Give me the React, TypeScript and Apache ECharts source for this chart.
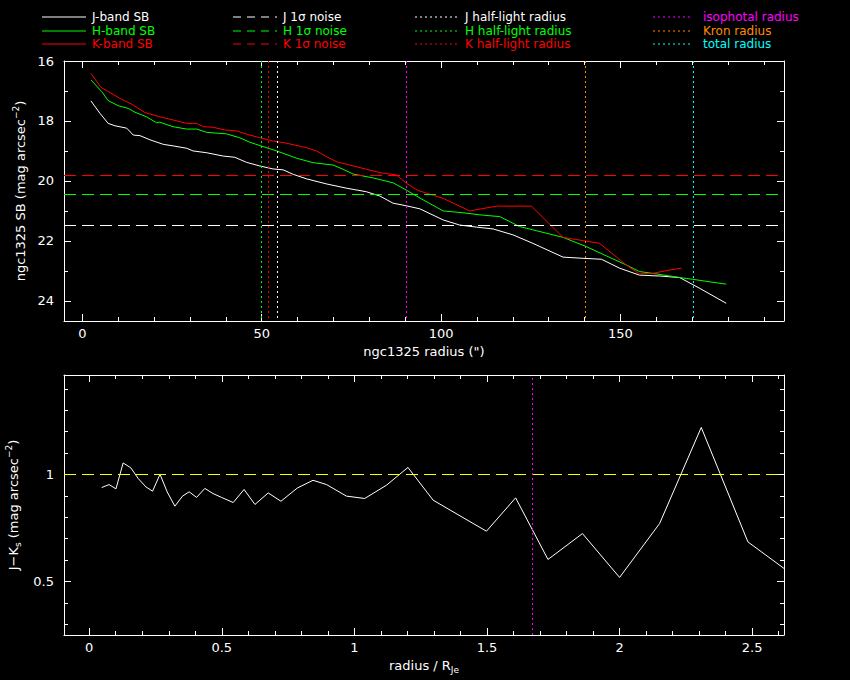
import React, { useEffect, useRef } from "react";
import * as echarts from "echarts";

// ---------- data ----------
// radius (arcsec), surface brightness (mag arcsec^-2)
const J_SB: [number, number][] = [
  [2.4, 17.33], [4.9, 17.74], [7.2, 18.08], [9.1, 18.16], [12.4, 18.24], [14.2, 18.47],
  [16.1, 18.49], [18.9, 18.63], [22.6, 18.78], [25.3, 18.83], [29.1, 18.91], [30.9, 19.0],
  [34.7, 19.06], [39.3, 19.17], [42.5, 19.21], [45.8, 19.38], [49.5, 19.5], [53.2, 19.6],
  [56.0, 19.63], [58.8, 19.78], [62.5, 19.93], [68.1, 20.1], [73.6, 20.24], [79.2, 20.36],
  [82.9, 20.5], [86.6, 20.74], [90.4, 20.83], [94.1, 20.93], [100.6, 21.3], [105.2, 21.47],
  [109.9, 21.54], [114.5, 21.6], [120.1, 21.8], [125.6, 22.08], [134.0, 22.54], [139.6, 22.58],
  [144.7, 22.61], [149.8, 22.91], [155.3, 23.14], [160.9, 23.17], [166.5, 23.22], [172.1, 23.58],
  [179.5, 24.08],
];
const H_SB: [number, number][] = [
  [2.4, 16.63], [5.4, 17.02], [7.2, 17.32], [10.0, 17.49], [12.8, 17.58], [14.7, 17.71],
  [17.9, 17.86], [20.7, 18.06], [21.6, 18.04], [25.3, 18.19], [29.1, 18.27], [31.9, 18.27],
  [34.7, 18.38], [40.2, 18.43], [43.9, 18.56], [46.7, 18.71], [49.5, 18.82], [54.2, 19.0],
  [59.7, 19.24], [64.3, 19.39], [69.9, 19.47], [72.7, 19.61], [75.5, 19.77], [81.1, 19.9],
  [86.6, 20.06], [90.4, 20.31], [95.0, 20.63], [100.6, 21.0], [106.1, 21.06], [110.8, 21.13],
  [116.4, 21.19], [121.9, 21.52], [125.6, 21.63], [134.0, 21.88], [140.5, 22.19], [146.1, 22.5],
  [151.6, 22.8], [155.3, 23.02], [160.0, 23.1], [166.5, 23.22], [170.2, 23.28], [175.8, 23.38],
  [179.5, 23.44],
];
const K_SB: [number, number][] = [
  [2.4, 16.41], [5.2, 16.88], [7.2, 17.02], [11.0, 17.28], [13.8, 17.44], [17.5, 17.72],
  [21.6, 17.86], [25.4, 17.97], [29.1, 18.08], [31.9, 18.08], [33.7, 18.19], [36.5, 18.21],
  [39.7, 18.3], [43.0, 18.33], [45.8, 18.44], [49.5, 18.56], [53.2, 18.67], [56.9, 18.74],
  [62.5, 18.89], [65.3, 19.0], [68.1, 19.19], [70.9, 19.36], [74.6, 19.47], [79.2, 19.61],
  [82.9, 19.72], [87.6, 19.8], [90.4, 20.08], [93.6, 20.32], [100.6, 20.58], [108.0, 21.0],
  [111.7, 20.92], [115.4, 20.84], [125.2, 20.84], [134.0, 21.88], [139.6, 21.99], [144.2, 22.08],
  [151.6, 22.8], [155.3, 23.1], [159.1, 23.08], [162.8, 22.99], [167.0, 22.91],
];
// radius / R_Je, J-Ks colour
const JK_COLOUR: [number, number][] = [
  [0.047, 0.939], [0.075, 0.953], [0.101, 0.933], [0.128, 1.054], [0.157, 1.031], [0.185, 0.981],
  [0.214, 0.942], [0.239, 0.922], [0.267, 1.001], [0.294, 0.919], [0.323, 0.852], [0.352, 0.899],
  [0.377, 0.919], [0.405, 0.893], [0.436, 0.935], [0.467, 0.911], [0.499, 0.893], [0.543, 0.869],
  [0.584, 0.93], [0.625, 0.86], [0.675, 0.914], [0.723, 0.875], [0.785, 0.937], [0.844, 0.973],
  [0.895, 0.953], [0.97, 0.899], [1.039, 0.888], [1.121, 0.95], [1.202, 1.033], [1.297, 0.88],
  [1.498, 0.735], [1.608, 0.891], [1.73, 0.603], [1.86, 0.724], [2.0, 0.519], [2.151, 0.771],
  [2.308, 1.22], [2.484, 0.685], [2.62, 0.561],
];

// 1-sigma noise levels (mag arcsec^-2)
const NOISE_J = 21.48;
const NOISE_H = 20.43;
const NOISE_K = 19.8;
// characteristic radii (arcsec)
const HALF_J = 54.3;
const HALF_H = 50.0;
const HALF_K = 51.8;
const ISO_RADIUS = 90.3;
const KRON_RADIUS = 140.1;
const TOTAL_RADIUS = 170.2;
// in units of R_Je
const ISO_RADIUS_NORM = 1.671;
const COLOUR_REF = 1;

// ticks
const TOP_X_LABELS = [0, 50, 100, 150];
const TOP_X_MINOR = [10, 20, 30, 40, 60, 70, 80, 90, 110, 120, 130, 140, 160, 170, 180, 190];
const TOP_Y_LABELS = [16, 18, 20, 22, 24];
const TOP_Y_MINOR = [17, 19, 21, 23];
const BOT_X_LABELS = [0, 0.5, 1, 1.5, 2, 2.5];
const BOT_X_MINOR = [
  0.1, 0.2, 0.3, 0.4, 0.6, 0.7, 0.8, 0.9, 1.1, 1.2, 1.3, 1.4, 1.6, 1.7, 1.8, 1.9,
  2.1, 2.2, 2.3, 2.4, 2.6,
];
const BOT_Y_LABELS = [0.5, 1];
const BOT_Y_MINOR = [0.3, 0.4, 0.6, 0.7, 0.8, 0.9, 1.1, 1.2, 1.3, 1.4];

// ---------- styling ----------
const FONT = "DejaVu Sans";
const WHITE = "#ffffff";
const GREEN = "#00ff00";
const RED = "#ff0000";
const MAGENTA = "#ff00ff";
const ORANGE = "#ff8c00";
const CYAN = "#00ffff";
const YELLOW = "#ffff00";
const DOT = [2, 3];
const DASH = [12, 6];

const baseText = { color: WHITE, fontFamily: FONT, fontSize: 13 };
const richText = {
  sup: { color: WHITE, fontFamily: FONT, fontSize: 9, padding: [0, 0, 9, 0] },
  sub: { color: WHITE, fontFamily: FONT, fontSize: 9, padding: [9, 0, 0, 0] },
  n: { color: WHITE, fontFamily: FONT, fontSize: 13 },
};

function axisSet(
  dim: "x" | "y",
  gridIndex: number,
  min: number,
  max: number,
  labels: number[],
  minor: number[],
  extra: any
) {
  const posA = dim === "x" ? "bottom" : "left";
  const posB = dim === "x" ? "top" : "right";
  const common = {
    type: "value",
    gridIndex,
    min,
    max,
    inverse: !!extra.inverse,
    splitLine: { show: false },
    axisPointer: { show: false },
  };
  const line = { show: true, onZero: false, lineStyle: { color: WHITE, width: 1 } };
  const noLine = { show: false, onZero: false };
  const tick = (vals: number[], len: number) => ({
    show: true,
    inside: true,
    length: len,
    customValues: vals,
    lineStyle: { color: WHITE, width: 1 },
  });
  return [
    {
      ...common,
      position: posA,
      axisLine: line,
      axisTick: tick(labels, 7),
      axisLabel: { ...baseText, show: true, customValues: labels, margin: extra.margin },
      name: extra.name,
      nameLocation: "middle",
      nameGap: extra.nameGap,
      nameTextStyle: { ...baseText, rich: richText },
    },
    { ...common, position: posA, axisLine: noLine, axisTick: tick(minor, 4), axisLabel: { show: false } },
    { ...common, position: posB, axisLine: line, axisTick: tick(labels, 7), axisLabel: { show: false } },
    { ...common, position: posB, axisLine: noLine, axisTick: tick(minor, 4), axisLabel: { show: false } },
  ];
}

function vLine(x: number, color: string) {
  return { xAxis: x, lineStyle: { color, width: 1, type: DOT } };
}
function hLine(y: number, color: string) {
  return { yAxis: y, lineStyle: { color, width: 1, type: DASH } };
}

const LEGEND_ROWS = [17, 31, 44];
const LEGEND_COLS = [
  { x1: 42, x2: 86, tx: 92, dash: null as any },
  { x1: 233, x2: 277, tx: 283, dash: [8, 6] },
  { x1: 415, x2: 457, tx: 465, dash: DOT },
  { x1: 653, x2: 693, tx: 703, dash: DOT },
];
const LEGEND_ITEMS = [
  ["J-band SB", "H-band SB", "K-band SB"],
  ["J 1σ noise", "H 1σ noise", "K 1σ noise"],
  ["J half-light radius", "H half-light radius", "K half-light radius"],
  ["isophotal radius", "Kron radius", "total radius"],
];
const LEGEND_COLOURS = [
  [WHITE, GREEN, RED],
  [WHITE, GREEN, RED],
  [WHITE, GREEN, RED],
  [MAGENTA, ORANGE, CYAN],
];

function legendGraphic() {
  const els: any[] = [];
  LEGEND_COLS.forEach((c, ci) => {
    LEGEND_ROWS.forEach((y, ri) => {
      const col = LEGEND_COLOURS[ci][ri];
      els.push({
        type: "line",
        silent: true,
        shape: { x1: c.x1, y1: y, x2: c.x2, y2: y },
        style: { stroke: col, lineWidth: 1, lineDash: c.dash || undefined },
      });
      els.push({
        type: "text",
        silent: true,
        x: c.tx,
        y,
        style: {
          text: LEGEND_ITEMS[ci][ri],
          fill: col,
          fontFamily: FONT,
          fontSize: 12,
          lineHeight: 12,
          verticalAlign: "middle",
          align: "left",
        },
      });
    });
  });
  return els;
}

function lineSeries(name: string, data: [number, number][], color: string, xi: number, yi: number, extra: any = {}) {
  return {
    type: "line",
    name,
    data,
    xAxisIndex: xi,
    yAxisIndex: yi,
    showSymbol: false,
    symbol: "none",
    lineStyle: { color, width: 1 },
    itemStyle: { color },
    clip: true,
    silent: true,
    ...extra,
  };
}

export default function App() {
  const ref = useRef<HTMLDivElement>(null);
  useEffect(() => {
    document.body.style.margin = "0";
    document.body.style.background = "#000";
    if (!ref.current) return;
    const chart = echarts.init(ref.current, undefined, { renderer: "svg" });

    const topX = axisSet("x", 0, -5.1, 195.6, TOP_X_LABELS, TOP_X_MINOR, {
      margin: 6,
      name: 'ngc1325 radius (")',
      nameGap: 24,
    });
    const topY = axisSet("y", 0, 16, 24.67, TOP_Y_LABELS, TOP_Y_MINOR, {
      inverse: true,
      margin: 10,
      name: "{n|ngc1325 SB (mag arcsec}{sup|−2}{n|)}",
      nameGap: 27,
    });
    const botX = axisSet("x", 1, -0.095, 2.62, BOT_X_LABELS, BOT_X_MINOR, {
      margin: 6,
      name: "{n|radius / R}{sub|Je}",
      nameGap: 21,
    });
    const botY = axisSet("y", 1, 0.25, 1.465, BOT_Y_LABELS, BOT_Y_MINOR, {
      margin: 10,
      name: "{n|J−K}{sub|s}{n| (mag arcsec}{sup|−2}{n|)}",
      nameGap: 28,
    });

    const markCommon = {
      silent: true,
      symbol: ["none", "none"],
      label: { show: false },
      emphasis: { disabled: true },
      animation: false,
    };

    chart.setOption({
      animation: false,
      backgroundColor: "#000000",
      grid: [
        { left: 64, top: 61, width: 720, height: 260, containLabel: false, outerBoundsMode: "none" },
        { left: 64, top: 375, width: 720, height: 260, containLabel: false, outerBoundsMode: "none" },
      ],
      xAxis: [...topX, ...botX],
      yAxis: [...topY, ...botY],
      graphic: legendGraphic(),
      series: [
        lineSeries("J-band SB", J_SB, WHITE, 0, 0, {
          markLine: {
            ...markCommon,
            data: [
              hLine(NOISE_J, WHITE),
              hLine(NOISE_H, GREEN),
              hLine(NOISE_K, RED),
              vLine(HALF_J, WHITE),
              vLine(HALF_H, GREEN),
              vLine(HALF_K, RED),
              vLine(ISO_RADIUS, MAGENTA),
              vLine(KRON_RADIUS, ORANGE),
              vLine(TOTAL_RADIUS, CYAN),
            ],
          },
        }),
        lineSeries("H-band SB", H_SB, GREEN, 0, 0),
        lineSeries("K-band SB", K_SB, RED, 0, 0),
        lineSeries("J-Ks", JK_COLOUR, WHITE, 4, 4, {
          markLine: {
            ...markCommon,
            data: [
              { yAxis: COLOUR_REF, lineStyle: { color: YELLOW, width: 1, type: DASH } },
              vLine(ISO_RADIUS_NORM, MAGENTA),
            ],
          },
        }),
      ],
    });
    return () => chart.dispose();
  }, []);
  return <div ref={ref} style={{ width: 850, height: 680, background: "#000" }} />;
}
